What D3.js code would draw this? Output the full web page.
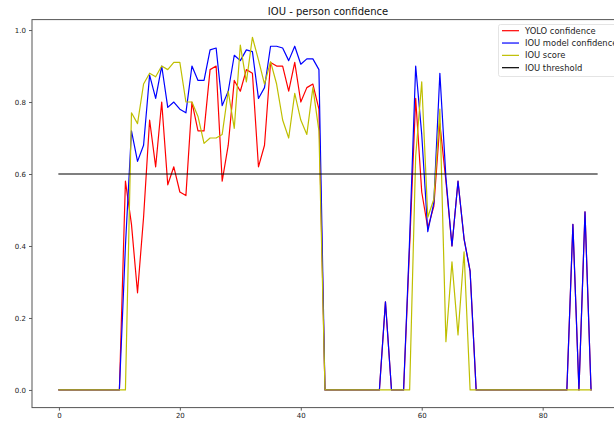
<!DOCTYPE html>
<html>
<head>
<meta charset="utf-8">
<script src="https://cdn.jsdelivr.net/npm/d3@7"></script>
<style>
html,body{margin:0;padding:0;background:#fff;}
svg{display:block;font-family:"DejaVu Sans",sans-serif;}
</style>
</head>
<body>
<svg id="chart" width="614" height="422"></svg>
<script>
const title = "IOU - person confidence";
const seriesNames = ["YOLO confidence", "IOU model confidence", "IOU score", "IOU threshold"];
const seriesColors = ["#ff0000", "#0000ff", "#bfbf00", "#000000"];
const xTicks = [0, 20, 40, 60, 80];
const yTicks = [0.0, 0.2, 0.4, 0.6, 0.8, 1.0];

const yoloConfidence = [
  0,0,0,0,0,0,0,0,0,0,
  0,0.58,0.46,0.27,0.48,0.75,0.62,0.80,0.57,0.62,
  0.55,0.54,0.80,0.72,0.72,0.89,0.90,0.58,0.68,0.86,
  0.83,0.89,0.88,0.62,0.68,0.91,0.90,0.90,0.83,0.91,
  0.80,0.84,0.85,0.78,0,0,0,0,0,0,
  0,0,0,0,0.245,0,0,0,0.40,0.81,
  0.55,0.45,0.51,0.74,0.58,0.40,0.58,0.42,0.33,0,
  0,0,0,0,0,0,0,0,0,0,
  0,0,0,0,0,0.46,0,0.495,0
];
const iouModelConfidence = [
  0,0,0,0,0,0,0,0,0,0,
  0,0.40,0.72,0.635,0.68,0.875,0.81,0.90,0.785,0.80,
  0.78,0.77,0.90,0.86,0.86,0.945,0.95,0.79,0.83,0.93,
  0.915,0.945,0.94,0.81,0.84,0.955,0.955,0.95,0.915,0.955,
  0.905,0.92,0.92,0.89,0,0,0,0,0,0,
  0,0,0,0,0.245,0,0,0,0.42,0.90,
  0.71,0.44,0.52,0.88,0.59,0.40,0.58,0.42,0.33,0,
  0,0,0,0,0,0,0,0,0,0,
  0,0,0,0,0,0.46,0,0.495,0
];
const iouScore = [
  0,0,0,0,0,0,0,0,0,0,
  0,0,0.77,0.74,0.85,0.88,0.87,0.90,0.89,0.91,
  0.91,0.80,0.80,0.76,0.685,0.70,0.70,0.71,0.83,0.727,
  0.958,0.856,0.98,0.917,0.85,0.912,0.85,0.75,0.70,0.824,
  0.75,0.71,0.84,0.72,0,0,0,0,0,0,
  0,0,0,0,0,0,0,0,0,0.65,
  0.856,0.48,0.53,0.78,0.134,0.356,0.153,0.384,0,0,
  0,0,0,0,0,0,0,0,0,0,
  0,0,0,0,0,0,0,0,0
];
const iouThreshold = Array.from({length: 90}, () => 0.6);

const series = [yoloConfidence, iouModelConfidence, iouScore, iouThreshold];

const svg = d3.select("#chart");
const plotLeft = 32, plotRight = 624, plotTop = 19.6, plotBottom = 407.6;

const x = d3.scaleLinear().domain([-4.45, 93.45]).range([plotLeft, plotRight]);
const y = d3.scaleLinear().domain([-0.049, 1.029]).range([plotBottom, plotTop]);

svg.append("defs").append("clipPath").attr("id", "clip")
  .append("rect").attr("x", plotLeft).attr("y", plotTop).attr("width", plotRight - plotLeft).attr("height", plotBottom - plotTop);

const line = d3.line().x((d, i) => x(i)).y(d => y(d));

const g = svg.append("g").attr("clip-path", "url(#clip)");
series.forEach((s, k) => {
  g.append("path")
    .datum(s)
    .attr("d", line)
    .attr("fill", "none")
    .attr("stroke", seriesColors[k])
    .attr("stroke-width", k === 3 ? 1.1 : 1.2)
    .attr("stroke-linejoin", "round")
    .attr("stroke-linecap", "square");
});

// axes
const xAxis = d3.axisBottom(x).tickValues(xTicks).tickFormat(d3.format("d")).tickSize(3).tickPadding(2.5);
const yAxis = d3.axisLeft(y).tickValues(yTicks).tickFormat(d3.format(".1f")).tickSize(3).tickPadding(3);

const gx = svg.append("g").attr("transform", `translate(0,${plotBottom})`).call(xAxis);
const gy = svg.append("g").attr("transform", `translate(${plotLeft},0)`).call(yAxis);
[gx, gy].forEach(a => {
  a.select(".domain").remove();
  a.selectAll(".tick line").attr("stroke", "#333").attr("stroke-width", 0.8);
  a.selectAll(".tick text").attr("fill", "#222").style("font-size", "7px").style("font-family", "DejaVu Sans");
});

// spines
svg.append("rect").attr("x", plotLeft).attr("y", plotTop).attr("width", plotRight - plotLeft).attr("height", plotBottom - plotTop)
  .attr("fill", "none").attr("stroke", "#555").attr("stroke-width", 1);

// title
svg.append("text").attr("x", (plotLeft + plotRight) / 2).attr("y", 14.8).attr("text-anchor", "middle")
  .style("font-size", "10px").attr("fill", "#111").text(title);

// legend
const lg = svg.append("g");
lg.append("rect").attr("x", 498.5).attr("y", 24.5).attr("width", 130).attr("height", 52).attr("rx", 2)
  .attr("fill", "#fff").attr("fill-opacity", 0.85).attr("stroke", "#ddd").attr("stroke-width", 0.8);
seriesNames.forEach((name, k) => {
  const yy = 30.7 + k * 12.33;
  lg.append("line").attr("x1", 502).attr("x2", 519).attr("y1", yy).attr("y2", yy)
    .attr("stroke", seriesColors[k]).attr("stroke-width", 1.2);
  lg.append("text").attr("x", 525).attr("y", yy + 2.9).style("font-size", "8.4px").attr("fill", "#222").text(name);
});
</script>
</body>
</html>
